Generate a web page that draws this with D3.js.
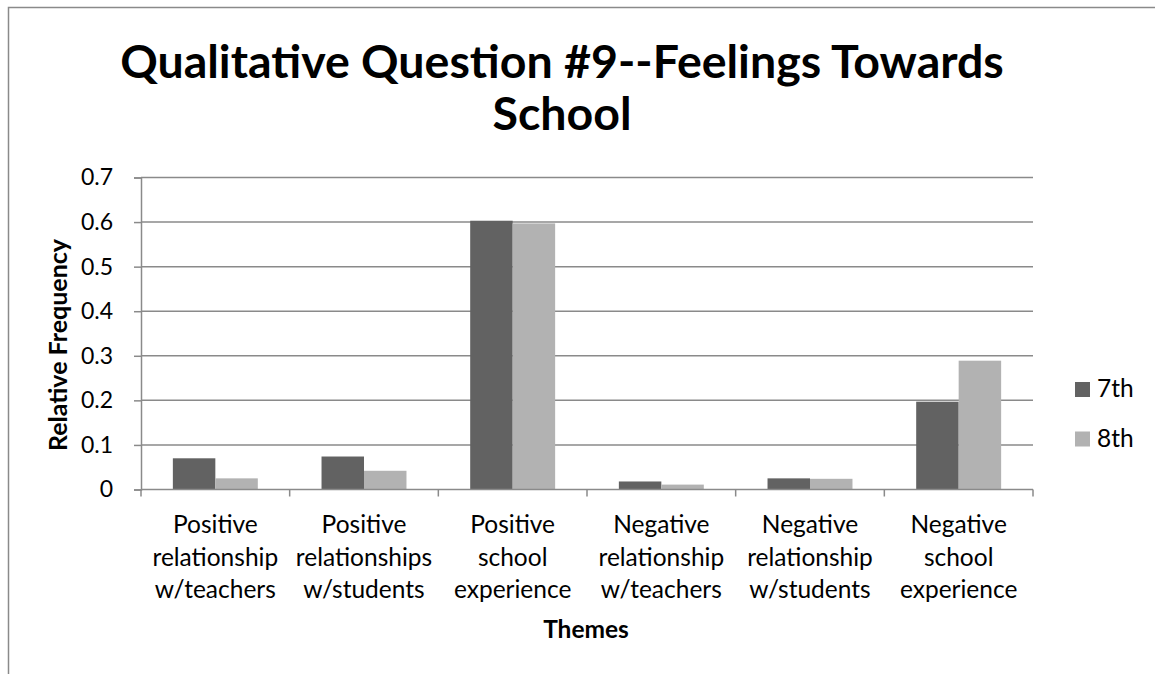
<!DOCTYPE html>
<html>
<head>
<meta charset="utf-8">
<script src="https://cdn.jsdelivr.net/npm/d3@7"></script>
<style>
  html, body { margin: 0; padding: 0; background: #fff; }
  svg text { font-family: Lato, "Open Sans", sans-serif; fill: #000; }
</style>
</head>
<body>
<svg id="chart" width="1155" height="674"></svg>
<script>
// Themes and relative frequencies by grade
const categories = [
  ["Positive", "relationship", "w/teachers"],
  ["Positive", "relationships", "w/students"],
  ["Positive", "school", "experience"],
  ["Negative", "relationship", "w/teachers"],
  ["Negative", "relationship", "w/students"],
  ["Negative", "school", "experience"]
];
const seriesNames = ["7th", "8th"];
const values7th = [0.070, 0.074, 0.603, 0.018, 0.025, 0.197];
const values8th = [0.025, 0.042, 0.597, 0.011, 0.024, 0.289];
const yTicks = [0, 0.1, 0.2, 0.3, 0.4, 0.5, 0.6, 0.7];
const colors = ["#626262", "#b2b2b2"];

const svg = d3.select("#chart");
const gridColor = "#8a8a8a";

// outer chart border
svg.append("rect")
  .attr("x", 8.5).attr("y", 7.5)
  .attr("width", 1200).attr("height", 700)
  .attr("fill", "none").attr("stroke", gridColor).attr("stroke-width", 1.5);

const plot = { left: 141, right: 1033, top: 177.5, bottom: 489.5 };

const x0 = d3.scaleBand()
  .domain(d3.range(categories.length))
  .range([plot.left, plot.right])
  .paddingInner(0).paddingOuter(0);

const barW = x0.bandwidth() / 3.5;
const x1 = d3.scaleBand()
  .domain(seriesNames)
  .range([0, barW * 2]);

const y = d3.scaleLinear().domain([0, 0.7]).range([plot.bottom, plot.top]);

// horizontal gridlines
svg.append("g")
  .selectAll("line")
  .data(yTicks.filter(d => d > 0))
  .join("line")
  .attr("x1", plot.left).attr("x2", plot.right)
  .attr("y1", d => y(d)).attr("y2", d => y(d))
  .attr("stroke", gridColor).attr("stroke-width", 1.5);

// bars
const groups = svg.append("g")
  .selectAll("g")
  .data(categories.map((c, i) => i))
  .join("g")
  .attr("transform", i => `translate(${x0(i) + (x0.bandwidth() - barW * 2) / 2},0)`);

groups.selectAll("rect")
  .data(i => [
    { s: "7th", v: values7th[i] },
    { s: "8th", v: values8th[i] }
  ])
  .join("rect")
  .attr("x", d => x1(d.s))
  .attr("width", x1.bandwidth())
  .attr("y", d => y(d.v))
  .attr("height", d => y(0) - y(d.v))
  .attr("fill", (d, j) => colors[j]);

// y axis
const yAxis = d3.axisLeft(y)
  .tickValues(yTicks)
  .tickSize(7)
  .tickPadding(21)
  .tickFormat(d => d === 0 ? "0" : d3.format(".1f")(d));
const gy = svg.append("g")
  .attr("transform", `translate(${plot.left},0)`)
  .call(yAxis);
gy.select(".domain").attr("stroke", gridColor).attr("stroke-width", 1.5);
gy.selectAll(".tick line").attr("stroke", gridColor).attr("stroke-width", 1.5);
gy.selectAll(".tick text")
  .attr("font-size", 23).attr("fill", "#000")
  .style("font-family", "Lato, sans-serif");

// x axis: baseline and boundary ticks
const boundaries = d3.range(categories.length + 1).map(i => plot.left + i * x0.bandwidth());
svg.append("line")
  .attr("x1", plot.left).attr("x2", plot.right)
  .attr("y1", plot.bottom).attr("y2", plot.bottom)
  .attr("stroke", gridColor).attr("stroke-width", 1.5);
svg.append("g").selectAll("line")
  .data(boundaries)
  .join("line")
  .attr("x1", d => d).attr("x2", d => d)
  .attr("y1", plot.bottom).attr("y2", plot.bottom + 7)
  .attr("stroke", gridColor).attr("stroke-width", 1.5);

// category labels
const catLabels = svg.append("g").selectAll("text")
  .data(categories)
  .join("text")
  .attr("x", (d, i) => x0(i) + x0.bandwidth() / 2)
  .attr("y", 533)
  .attr("text-anchor", "middle")
  .attr("font-size", 24.5);
catLabels.selectAll("tspan")
  .data(d => d)
  .join("tspan")
  .attr("x", function () { return d3.select(this.parentNode).attr("x"); })
  .attr("dy", (d, j) => j === 0 ? 0 : 32.5)
  .text(d => d);

// axis titles
svg.append("text")
  .attr("x", 586).attr("y", 638)
  .attr("text-anchor", "middle")
  .attr("font-size", 24.5).attr("font-weight", "bold")
  .text("Themes");

svg.append("text")
  .attr("transform", "translate(67,345) rotate(-90)")
  .attr("text-anchor", "middle")
  .attr("font-size", 25).attr("font-weight", "bold")
  .text("Relative Frequency");

// chart title
const title = svg.append("text")
  .attr("text-anchor", "middle")
  .attr("font-size", 46.5).attr("font-weight", "bold");
title.append("tspan").attr("x", 562).attr("y", 78).text("Qualitative Question #9--Feelings Towards");
title.append("tspan").attr("x", 562).attr("y", 130).text("School");

// legend
const legend = svg.append("g").selectAll("g")
  .data(seriesNames)
  .join("g")
  .attr("transform", (d, i) => `translate(1075,${382 + i * 49.5})`);
legend.append("rect")
  .attr("width", 15).attr("height", 15)
  .attr("fill", (d, i) => colors[i]);
legend.append("text")
  .attr("x", 22).attr("y", 15)
  .attr("font-size", 24.5)
  .text(d => d);
</script>
</body>
</html>
